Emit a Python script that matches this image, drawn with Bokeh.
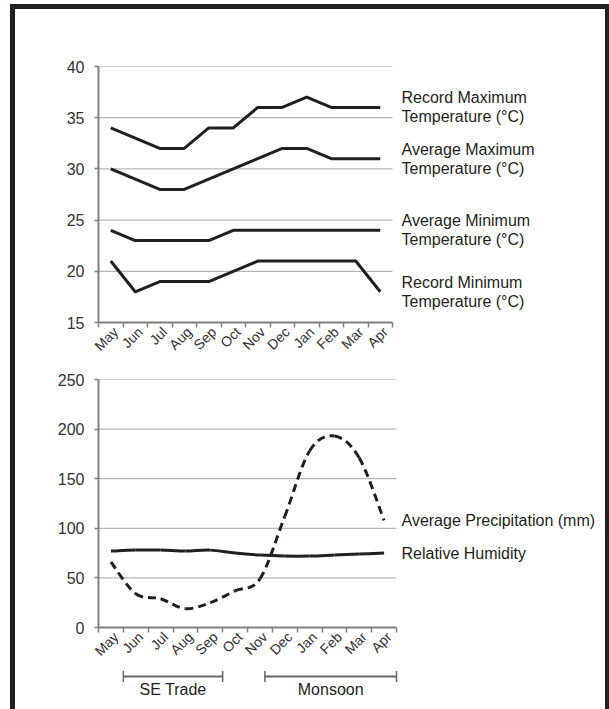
import math
from bokeh.plotting import figure
from bokeh.models import Range1d, FixedTicker, Label, ColumnDataSource, Arrow, TeeHead
from bokeh.layouts import column
from bokeh.embed import file_html
from bokeh.resources import INLINE
from bokeh.core.properties import value

# ---------------- data ----------------
months = ["May", "Jun", "Jul", "Aug", "Sep", "Oct", "Nov", "Dec", "Jan", "Feb", "Mar", "Apr"]

record_max = [34, 33, 32, 32, 34, 34, 36, 36, 37, 36, 36, 36]
avg_max = [30, 29, 28, 28, 29, 30, 31, 32, 32, 31, 31, 31]
avg_min = [24, 23, 23, 23, 23, 24, 24, 24, 24, 24, 24, 24]
record_min = [21, 18, 19, 19, 19, 20, 21, 21, 21, 21, 21, 18]
temp_labels = [
    ("Record Maximum", "Temperature (°C)"),
    ("Average Maximum", "Temperature (°C)"),
    ("Average Minimum", "Temperature (°C)"),
    ("Record Minimum", "Temperature (°C)"),
]
temp_ticks = [15, 20, 25, 30, 35, 40]

precip = [66, 34, 29, 19, 25, 37, 49, 112, 178, 193, 171, 108]
humidity = [77, 78, 78, 77, 78, 75, 73, 72, 72, 73, 74, 75]
rain_labels = ["Average Precipitation (mm)", "Relative Humidity"]
rain_ticks = [0, 50, 100, 150, 200, 250]

seasons = ["SE Trade", "Monsoon"]
season_start = [1, 6.7]
season_end = [5, 12]

# ---------------- style ----------------
FONT = "Liberation Sans"
INK = "#231f20"
GRID = "#a6a6a6"
AXIS = "#7f7f7f"
TXT = "#333333"
W = 590
LEFT = 83
RIGHT = 5
FRAME_W = W - LEFT - RIGHT
LABEL_SHIFT = 0.2  # visual nudge of the rotated month labels

n = len(months)
xs = [i + 0.5 for i in range(n)]
bounds = list(range(n + 1))


def style_axes(p, yticks):
    p.outline_line_color = None
    p.background_fill_color = "white"
    p.border_fill_color = "white"
    p.grid.visible = False
    # horizontal grid lines limited to the data area (0 .. n)
    gy = [t for t in yticks if t != yticks[0]]
    p.segment(x0=[0] * len(gy), x1=[n] * len(gy), y0=gy, y1=gy,
              line_color=GRID, line_width=1)
    ya = p.yaxis[0]
    ya.ticker = FixedTicker(ticks=yticks)
    ya.axis_line_color = AXIS
    ya.axis_line_width = 2
    ya.major_tick_line_color = AXIS
    ya.major_tick_line_width = 1.5
    ya.major_tick_out = 4
    ya.major_tick_in = 0
    ya.minor_tick_line_color = None
    ya.major_label_text_font = FONT
    ya.major_label_text_font_size = "16px"
    ya.major_label_text_color = TXT
    ya.major_label_standoff = 10
    xa = p.xaxis[0]
    xa.bounds = (0, n)
    lx = [x + LABEL_SHIFT for x in xs]
    xa.ticker = FixedTicker(ticks=lx, minor_ticks=bounds)
    xa.major_label_overrides = {x: m for x, m in zip(lx, months)}
    xa.major_label_orientation = math.pi / 4
    xa.axis_line_color = AXIS
    xa.axis_line_width = 2
    xa.major_tick_line_color = None
    xa.major_tick_out = 0
    xa.major_tick_in = 0
    xa.minor_tick_line_color = AXIS
    xa.minor_tick_line_width = 1.5
    xa.minor_tick_out = 5
    xa.minor_tick_in = 0
    xa.major_label_text_font = FONT
    xa.major_label_text_font_size = "14px"
    xa.major_label_text_color = TXT
    xa.major_label_standoff = 2


# ---------------- top: temperatures ----------------
px1 = 294  # width of the 12 month data area in px
p1 = figure(width=W, height=358, x_range=Range1d(0, n * FRAME_W / px1), y_range=Range1d(15, 40),
            output_backend="svg", toolbar_location=None,
            min_border_left=LEFT, min_border_right=RIGHT, min_border_top=57, min_border_bottom=45)
style_axes(p1, temp_ticks)

for series, (l1, l2) in zip([record_max, avg_max, avg_min, record_min], temp_labels):
    p1.line(xs, series, line_color=INK, line_width=3, line_join="round")
    for txt, off in ((l1, 9.5), (l2, -9.5)):
        p1.add_layout(Label(x=n, y=series[-1], x_offset=9, y_offset=off, text=txt,
                            text_font=FONT, text_font_size="16px", text_color=INK,
                            text_baseline="middle", text_align="left"))


# ---------------- bottom: precipitation & humidity ----------------
def bezier_source(x, y):
    m = len(x)
    d = dict(x0=[], y0=[], x1=[], y1=[], cx0=[], cy0=[], cx1=[], cy1=[])
    for i in range(m - 1):
        xp, yp = (x[i - 1], y[i - 1]) if i > 0 else (x[i], y[i])
        xn, yn = (x[i + 2], y[i + 2]) if i + 2 < m else (x[i + 1], y[i + 1])
        d["x0"].append(x[i]); d["y0"].append(y[i])
        d["x1"].append(x[i + 1]); d["y1"].append(y[i + 1])
        d["cx0"].append(x[i] + (x[i + 1] - xp) / 6.0)
        d["cy0"].append(y[i] + (y[i + 1] - yp) / 6.0)
        d["cx1"].append(x[i + 1] - (xn - x[i]) / 6.0)
        d["cy1"].append(y[i + 1] - (yn - y[i]) / 6.0)
    return ColumnDataSource(d)


px2 = 298
p2 = figure(width=W, height=302, x_range=Range1d(0, n * FRAME_W / px2), y_range=Range1d(0, 250),
            output_backend="svg", toolbar_location=None,
            min_border_left=LEFT, min_border_right=RIGHT, min_border_top=12, min_border_bottom=42)
style_axes(p2, rain_ticks)

p2.bezier(x0="x0", y0="y0", x1="x1", y1="y1", cx0="cx0", cy0="cy0", cx1="cx1", cy1="cy1",
          source=bezier_source(xs, humidity), line_color=INK, line_width=3)
p2.bezier(x0="x0", y0="y0", x1="x1", y1="y1", cx0="cx0", cy0="cy0", cx1="cx1", cy1="cy1",
          source=bezier_source(xs, precip), line_color=INK, line_width=3, line_dash="8 5")

for series, txt in zip([precip, humidity], rain_labels):
    p2.add_layout(Label(x=n, y=series[-1], x_offset=5, text=txt,
                        text_font=FONT, text_font_size="16px", text_color=INK,
                        text_baseline="middle", text_align="left"))

# ---------------- seasons brackets ----------------
p3 = figure(width=W, height=40, x_range=p2.x_range, y_range=Range1d(40, 0),
            output_backend="svg", toolbar_location=None,
            min_border_left=LEFT, min_border_right=RIGHT, min_border_top=0, min_border_bottom=0)
p3.axis.visible = False
p3.grid.visible = False
p3.outline_line_color = None

bracket_y = 7
text_y = 20
src = ColumnDataSource(dict(
    x0=season_start, x1=season_end,
    xc=[(a + b) / 2 for a, b in zip(season_start, season_end)],
    y=[bracket_y] * len(seasons), ty=[text_y] * len(seasons), name=seasons))
p3.add_layout(Arrow(start=TeeHead(size=11, line_color="#666666", line_width=1.5),
                    end=TeeHead(size=11, line_color="#666666", line_width=1.5),
                    x_start="x0", y_start="y", x_end="x1", y_end="y", source=src,
                    line_color="#666666", line_width=2))
p3.text(x="xc", y="ty", text="name", source=src, text_font=value(FONT),
        text_font_size="16px", text_color=INK, text_align="center", text_baseline="middle")

layout = column(p1, p2, p3, styles={
    "border-style": "solid",
    "border-color": INK,
    "border-width": "5px 4px 0px 5px",
    "margin-left": "10px",
    "margin-top": "4px",
})

open("out.html", "w").write(file_html(layout, INLINE))
